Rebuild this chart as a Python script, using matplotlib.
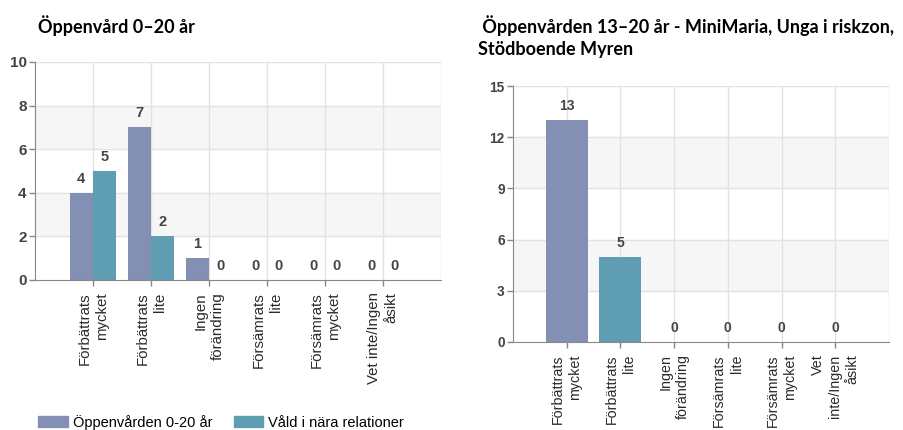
import matplotlib.pyplot as plt
from matplotlib.patches import Patch

# data
left_categories = ['Förbättrats\nmycket', 'Förbättrats\nlite', 'Ingen\nförändring',
                   'Försämrats\nlite', 'Försämrats\nmycket', 'Vet inte/Ingen\nåsikt']
left_oppen = [4, 7, 1, 0, 0, 0]
left_vald = [5, 2, 0, 0, 0, 0]

right_categories = ['Förbättrats\nmycket', 'Förbättrats\nlite', 'Ingen\nförändring',
                    'Försämrats\nlite', 'Försämrats\nmycket', 'Vet\ninte/Ingen\nåsikt']
right_values = [13, 5, 0, 0, 0, 0]

series_names = ['Öppenvården 0-20 år', 'Våld i nära relationer']
blue = '#8390b3'
teal = '#5f9db2'

plt.rcParams['font.family'] = ['Liberation Sans', 'DejaVu Sans']

fig = plt.figure(figsize=(9.04, 4.30), dpi=100)
ax1 = fig.add_axes([0.0387, 0.349, 0.449, 0.507])
ax2 = fig.add_axes([0.5675, 0.2047, 0.4159, 0.5953])


def style_axes(ax, ymax, step, categories, xsize, ysize):
    ax.set_xlim(-1, len(categories))
    ax.set_ylim(0, ymax)
    yt = list(range(0, ymax + 1, step))
    ax.set_yticks(yt)
    # alternate shaded bands
    for i in range(1, len(yt) - 1, 2):
        ax.axhspan(yt[i], yt[i + 1], color='#f6f6f6', zorder=0)
    for y in yt[1:]:
        ax.axhline(y, color='#e2e2e2', lw=1, zorder=1)
    for x in range(len(categories)):
        ax.axvline(x, color='#e2e2e2', lw=1, zorder=1)
    ax.axvline(len(categories), color='#e2e2e2', lw=1, zorder=1)
    ax.set_xticks(range(len(categories)))
    ax.set_xticklabels(categories, rotation=90, ha='center', va='top',
                       multialignment='right', fontsize=xsize, color='#2a2a2a',
                       linespacing=1.3)
    for s in ['top', 'right']:
        ax.spines[s].set_visible(False)
    for s in ['left', 'bottom']:
        ax.spines[s].set_color('#888888')
    ax.tick_params(axis='both', colors='#888888', length=4, width=1)
    ax.tick_params(axis='x', pad=5, labelcolor='#2a2a2a')
    ax.tick_params(axis='y', pad=2, labelcolor='#444444', labelsize=ysize)
    for lbl in ax.get_yticklabels():
        lbl.set_fontweight('bold')


def add_labels(ax, bars, size):
    for b in bars:
        h = b.get_height()
        ax.annotate(f'{h:g}', (b.get_x() + b.get_width() / 2, h),
                    xytext=(0, 5), textcoords='offset points', ha='center',
                    va='bottom', fontsize=size, fontweight='bold', color='#444444')


# left chart
style_axes(ax1, 10, 2, left_categories, 10.8, 11)
x = range(len(left_categories))
w = 0.4
b1 = ax1.bar([i - w / 2 for i in x], left_oppen, w, color=blue, zorder=2)
b2 = ax1.bar([i + w / 2 for i in x], left_vald, w, color=teal, zorder=2)
add_labels(ax1, b1, 10.5)
add_labels(ax1, b2, 10.5)

# right chart
style_axes(ax2, 15, 3, right_categories, 10.3, 9.8)
right_colors = [blue if i % 2 == 0 else teal for i in range(len(right_values))]
b3 = ax2.bar(range(len(right_values)), right_values, 0.78, color=right_colors, zorder=2)
add_labels(ax2, b3, 10)

# titles
fig.text(0.042, 0.94, 'Öppenvård 0–20 år', fontsize=13, fontweight='bold',
         family=['Lato', 'DejaVu Sans'], va='center')
fig.text(0.529, 0.915, ' Öppenvården 13–20 år - MiniMaria, Unga i riskzon,\nStödboende Myren',
         fontsize=13, fontweight='bold', family=['Lato', 'DejaVu Sans'], va='center',
         linespacing=1.3)

# legend
handles = [Patch(color=blue, label=series_names[0]), Patch(color=teal, label=series_names[1])]
fig.legend(handles=handles, loc='center left', bbox_to_anchor=(0.028, 0.018), ncol=2,
           frameon=False, fontsize=10.5, handlelength=2.0, handleheight=0.8,
           columnspacing=1.5, handletextpad=0.35)

fig.savefig('out.png', dpi=100)
